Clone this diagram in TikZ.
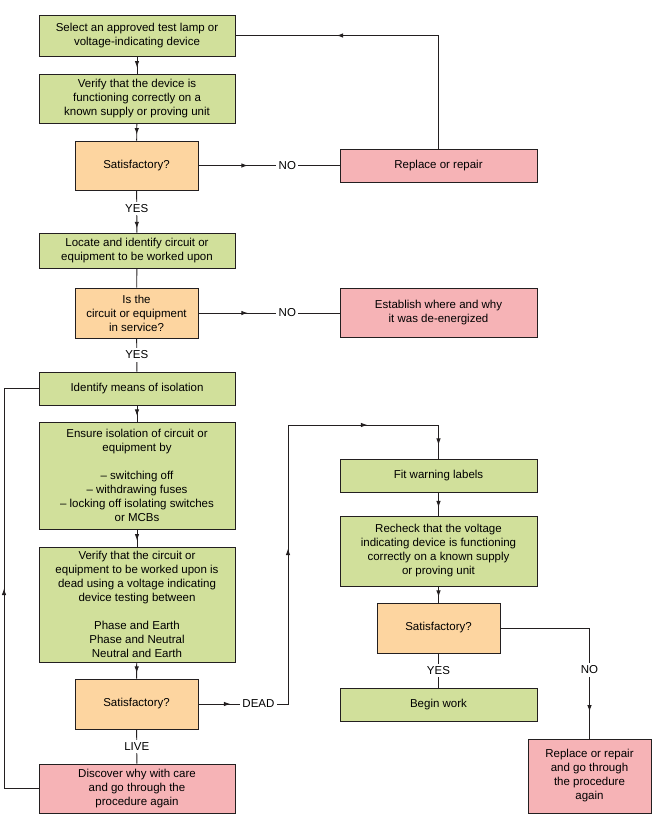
\documentclass[tikz,border=0pt]{standalone}
\usepackage{fontspec}
\setmainfont{Liberation Sans}
\usetikzlibrary{positioning,arrows.meta,decorations.markings}
\definecolor{fgrn}{HTML}{D1E09B}
\definecolor{forg}{HTML}{FDD5A0}
\definecolor{fpnk}{HTML}{F6B3B6}
\definecolor{fink}{HTML}{231F20}
\tikzset{
  ftip/.tip    ={Latex[length=6.5pt,width=4.5pt]},
  box/.style   ={draw=fink, line width=0.9pt, fill=fgrn, align=center, inner sep=2pt,
                 font=\fontsize{11.5}{14}\selectfont, minimum width=196pt},
  gbox/.style  ={box},
  qbox/.style  ={box, fill=forg, minimum width=123pt},
  pbox/.style  ={box, fill=fpnk, minimum width=197pt},
  lbl/.style   ={fill=white, inner sep=2.5pt, font=\fontsize{11.5}{13}\selectfont},
  link/.style  ={draw=fink, line width=0.9pt},
  midarr/.style={link, postaction={decorate},
                 decoration={markings, mark=at position #1 with {\arrow{ftip}}}},
  midarr/.default=0.65,
}

\begin{document}
\begin{tikzpicture}[x=1pt, y=-1pt]
  \useasboundingbox (0,0) rectangle (652,814);
  % left column
  \node[gbox, minimum height=41pt] (select) at (137,35.5) {Select an approved test lamp or\\voltage-indicating device};
  \node[gbox, minimum height=49pt] (verdev) at (137,98.5) {Verify that the device is\\functioning correctly on a\\known supply or proving unit};
  \node[qbox, minimum height=49pt] (sat1) at (136.5,165.5) {Satisfactory?};
  \node[gbox, minimum height=35pt] (locate) at (137,250.5) {Locate and identify circuit or\\equipment to be worked upon};
  \node[qbox, minimum height=50pt] (inserv) at (136.5,313) {Is the\\circuit or equipment\\in service?};
  \node[gbox, minimum height=33pt] (isolmeans) at (137,388.5) {Identify means of isolation};
  \node[gbox, minimum height=107pt] (ensure) at (137,475.5) {Ensure isolation of circuit or\\equipment by\\[14pt]-- switching off\\-- withdrawing fuses\\-- locking off isolating switches\\or MCBs};
  \node[gbox, minimum height=115pt] (verdead) at (137,604.5) {Verify that the circuit or\\equipment to be worked upon is\\dead using a voltage indicating\\device testing between\\[14pt]Phase and Earth\\Phase and Neutral\\Neutral and Earth};
  \node[qbox, minimum height=50pt] (sat2) at (136.5,704) {Satisfactory?};
  \node[pbox, minimum width=196pt, minimum height=49pt] (discover) at (137,788.5) {Discover why with care\\and go through the\\procedure again};
  % right column
  \node[pbox, minimum height=33pt] (repair) at (438.5,165.5) {Replace or repair};
  \node[pbox, minimum height=49pt] (establish) at (438.5,313) {Establish where and why\\it was de-energized};
  \node[gbox, minimum width=197pt, minimum height=33pt] (labels) at (438.5,475.5) {Fit warning labels};
  \node[gbox, minimum width=197pt, minimum height=70pt] (recheck) at (438.5,551) {Recheck that the voltage\\indicating device is functioning\\correctly on a known supply\\or proving unit};
  \node[qbox, minimum height=50pt] (sat3) at (438.5,628) {Satisfactory?};
  \node[gbox, minimum width=197pt, minimum height=33pt] (begin) at (438.5,704.5) {Begin work};
  \node[pbox, minimum width=123pt, minimum height=74pt] (repair2) at (589.5,776) {Replace or repair\\and go through\\the procedure\\again};

  % flows
  \draw[midarr] (select) -- (verdev);
  \draw[midarr] (verdev) -- (sat1);
  \draw[midarr=0.9] (sat1) -- node[lbl, pos=0.42]{YES} (locate);
  \draw[midarr=0.35] (sat1) -- node[lbl, pos=0.63]{NO} (repair);
  \draw[midarr=0.68] (repair.north) |- (select.east);
  \draw[link] (locate) -- (inserv);
  \draw[midarr=0.35] (inserv) -- node[lbl, pos=0.63]{NO} (establish);
  \draw[link] (inserv) -- node[lbl]{YES} (isolmeans);
  \draw[midarr] (isolmeans) -- (ensure);
  \draw[midarr] (ensure) -- (verdead);
  \draw[midarr] (verdead) -- (sat2);
  \draw[link] (sat2) -- node[lbl]{LIVE} (discover);
  % loop back to isolation
  \coordinate (lback) at (4,788.5);
  \draw[midarr=0.5] (discover.west) -- (lback) |- (isolmeans.west);
  % dead branch
  \coordinate (dcorner) at (288,704);
  \coordinate (dtop) at (288,425);
  \draw[link, postaction={decorate},
        decoration={markings, mark=at position 32pt with {\arrow{ftip}},
                    mark=at position 245pt with {\arrow{ftip}},
                    mark=at position 448pt with {\arrow{ftip}},
                    mark=at position 539pt with {\arrow{ftip}}}]
    (sat2.east) -- node[lbl, pos=0.67]{DEAD} (dcorner) -- (dtop) -| (labels.north);
  \draw[midarr] (labels) -- (recheck);
  \draw[midarr] (recheck) -- (sat3);
  \draw[link] (sat3) -- node[lbl]{YES} (begin);
  \draw[midarr=0.865] (sat3.east) -| node[lbl, pos=0.69]{NO} (repair2.north);
\end{tikzpicture}
\end{document}
